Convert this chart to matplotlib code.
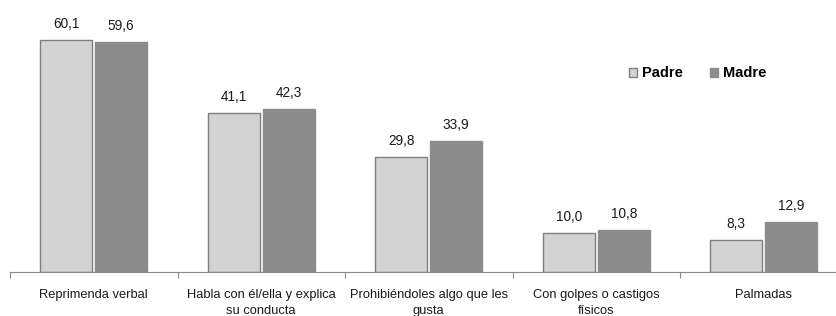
import numpy as np
import matplotlib.pyplot as plt

plt.rcParams['font.family'] = ['Liberation Sans', 'DejaVu Sans']

categorias = ['Reprimenda verbal', 'Habla con él/ella y explica\nsu conducta',
              'Prohibiéndoles algo que les\ngusta', 'Con golpes o castigos\nfísicos', 'Palmadas']
padre = [60.1, 41.1, 29.8, 10.0, 8.3]
madre = [59.6, 42.3, 33.9, 10.8, 12.9]

x = np.arange(len(categorias))
w = 0.31
off = 0.164

fig = plt.figure(figsize=(8.36, 3.16), dpi=100)
ax = fig.add_axes([10/836, 44/316, 826/836, 270/316])

b1 = ax.bar(x - off, padre, w, color='#d3d3d3', edgecolor='#7f7f7f', linewidth=1, label='Padre')
b2 = ax.bar(x + off, madre, w, color='#8c8c8c', edgecolor='#8c8c8c', linewidth=1, label='Madre')

for rect, v in zip(list(b1) + list(b2), padre + madre):
    ax.text(rect.get_x() + rect.get_width()/2, v + 2.4, f'{v:.1f}'.replace('.', ','),
            ha='center', va='bottom', fontsize=9.8, color='#1a1a1a')

ax.set_xticks(np.arange(len(categorias) + 1) - 0.5)
ax.set_xticklabels([])
ax.set_xlim(-0.5, -0.5 + 826/167.5)
ax.set_ylim(0, 70)
ax.set_yticks([])
for s in ['top', 'right', 'left']:
    ax.spines[s].set_visible(False)
ax.spines['bottom'].set_color('#8a8a8a')
ax.tick_params(axis='x', length=4, color='#8a8a8a', direction='out')

for i, c in enumerate(categorias):
    ax.text(i, -4.4, c, ha='center', va='top', fontsize=9.3, color='#1a1a1a', linespacing=1.4)

ax.legend(loc='upper left', bbox_to_anchor=(0.734, 0.81), ncol=2, frameon=False,
          prop={'weight': 'bold', 'size': 10.5}, handlelength=0.55, handleheight=0.55,
          handletextpad=0.3, columnspacing=1.9)

fig.savefig('out.png', dpi=100)
